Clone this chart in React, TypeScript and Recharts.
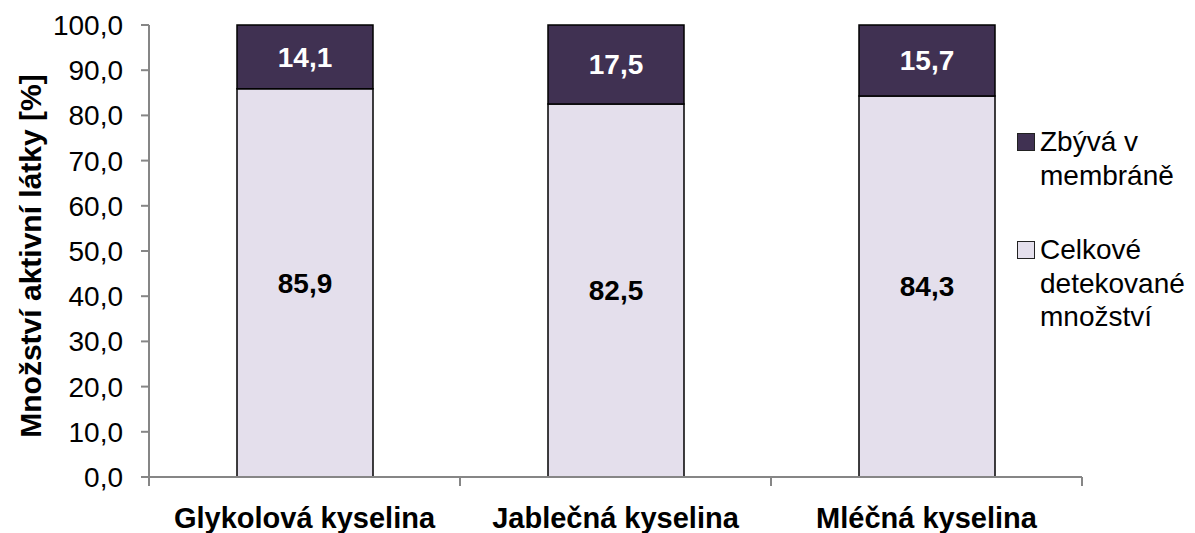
import React from 'react';
import { BarChart, Bar, XAxis, YAxis, LabelList, Legend } from 'recharts';

const categories = ['Glykolová kyselina', 'Jablečná kyselina', 'Mléčná kyselina'];
const detectedValues = [85.9, 82.5, 84.3];
const remainingValues = [14.1, 17.5, 15.7];
const yTicks = [0, 10, 20, 30, 40, 50, 60, 70, 80, 90, 100];
const seriesNames = { detected: 'Celkové detekované množství', remaining: 'Zbývá v membráně' };
const yLabel = 'Množství aktivní látky [%]';

const DARK = '#403152';
const LIGHT = '#E4DFEC';
const AXIS = '#868686';
const FONT = '"Liberation Sans", Arial, Helvetica, sans-serif';

const data = categories.map((c, i) => ({
  name: c,
  detected: detectedValues[i],
  remaining: remainingValues[i],
}));

const fmt = (v: any) => Number(v).toFixed(1).replace('.', ',');

const legendItems = [
  { name: seriesNames.remaining, color: DARK },
  { name: seriesNames.detected, color: LIGHT },
];

const LegendContent = () => (
  <div style={{ fontFamily: FONT, fontSize: 28, lineHeight: '33.6px', color: '#000' }}>
    {legendItems.map((it, i) => (
      <div key={i} style={{ display: 'flex', alignItems: 'flex-start', marginBottom: i === 0 ? 41 : 0 }}>
        <div
          style={{
            width: 16,
            height: 16,
            background: it.color,
            border: '1px solid #222',
            marginTop: 8,
            marginRight: 5,
            flex: '0 0 auto',
          }}
        />
        <div style={{ width: 150 }}>{it.name}</div>
      </div>
    ))}
  </div>
);

const YLabelContent = () => (
  <text
    x={30}
    y={256}
    transform="rotate(-90 30 256)"
    textAnchor="middle"
    dominantBaseline="central"
    fontFamily={FONT}
    fontSize={30}
    fontWeight="bold"
    fill="#000"
  >
    {yLabel}
  </text>
);

const CategoryTick = (props: any) => {
  const { x, y, payload, index, visibleTicksCount } = props;
  const half = payload && payload.offset ? payload.offset : 0;
  const axisY = y - 30;
  return (
    <g>
      <line x1={x - half} y1={axisY} x2={x - half} y2={axisY + 9} stroke={AXIS} strokeWidth={2} />
      {index === visibleTicksCount - 1 && (
        <line x1={x + half} y1={axisY} x2={x + half} y2={axisY + 9} stroke={AXIS} strokeWidth={2} />
      )}
      <text
        x={x}
        y={y}
        dy="0.71em"
        textAnchor="middle"
        fill="#000"
        fontFamily={FONT}
        fontSize={29}
        fontWeight="bold"
      >
        {payload.value}
      </text>
    </g>
  );
};

export default function App() {
  return (
    <div style={{ position: 'absolute', left: 0, top: 0, width: 1195, height: 533, background: '#fff' }}>
      <BarChart
        width={1195}
        height={533}
        data={data}
        margin={{ top: 25, right: 113, left: 0, bottom: 0 }}
      >
        <XAxis
          dataKey="name"
          height={56}
          axisLine={{ stroke: AXIS, strokeWidth: 2 }}
          tickLine={false}
          tickSize={0}
          tickMargin={30}
          interval={0}
          tick={<CategoryTick />}
        />
        <YAxis
          width={149}
          domain={[0, 100]}
          ticks={yTicks}
          tickFormatter={fmt}
          tickSize={8}
          tickMargin={18}
          axisLine={{ stroke: AXIS, strokeWidth: 2 }}
          tickLine={{ stroke: AXIS, strokeWidth: 2 }}
          tick={{ fill: '#000', fontFamily: FONT, fontSize: 28 }}
          label={{ content: () => <YLabelContent /> }}
        />
        <Legend
          layout="horizontal"
          verticalAlign="middle"
          align="center"
          content={() => <LegendContent />}
          wrapperStyle={{ position: 'absolute', left: 1017, top: 125, width: 178 }}
        />
        <Bar
          dataKey="detected"
          name={seriesNames.detected}
          stackId="a"
          fill={LIGHT}
          stroke="#000"
          strokeWidth={1.5}
          barSize={136}
          isAnimationActive={false}
        >
          <LabelList
            dataKey="detected"
            position="center"
            formatter={fmt}
            fill="#000"
            style={{ fontFamily: FONT, fontSize: 28, fontWeight: 'bold' }}
          />
        </Bar>
        <Bar
          dataKey="remaining"
          name={seriesNames.remaining}
          stackId="a"
          fill={DARK}
          stroke="#000"
          strokeWidth={1.5}
          barSize={136}
          isAnimationActive={false}
        >
          <LabelList
            dataKey="remaining"
            position="center"
            formatter={fmt}
            fill="#fff"
            style={{ fontFamily: FONT, fontSize: 28, fontWeight: 'bold', fill: '#fff' }}
          />
        </Bar>
      </BarChart>
    </div>
  );
}
